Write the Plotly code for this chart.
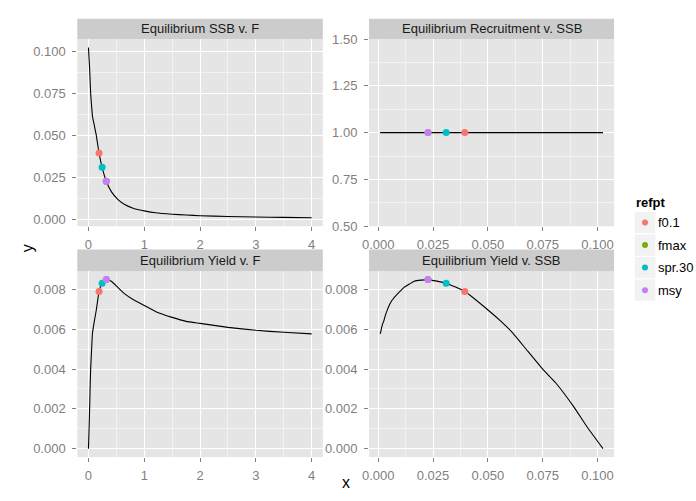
import plotly.graph_objects as go

# Equilibrium curves over fishing mortality F (recruitment held at 1)
F_vals = [0, 0.012, 0.022, 0.032, 0.040, 0.055, 0.072, 0.105, 0.14, 0.19, 0.245,
          0.32, 0.41, 0.53, 0.65, 0.8, 0.9, 1.0, 1.2, 1.5, 1.75, 2.0, 2.5, 3.0,
          3.5, 4.0]
ssb_vals = [0.1025, 0.0952, 0.0892, 0.0810, 0.0750, 0.0682, 0.0615, 0.0560, 0.0502,
            0.0395, 0.0310, 0.0227, 0.0165, 0.0117, 0.0088, 0.0066, 0.0057, 0.0050,
            0.0039, 0.0030, 0.0025, 0.0021, 0.0016, 0.0013, 0.0011, 0.0009]
yield_vals = [0.0, 0.0011, 0.0021, 0.0033, 0.0040, 0.0049, 0.0058, 0.0064, 0.00696,
              0.0079, 0.00832, 0.0085, 0.00842, 0.0081, 0.00778, 0.0075, 0.00735,
              0.0072, 0.0069, 0.0066, 0.0064, 0.0063, 0.0061, 0.00595, 0.00585,
              0.00577]
rec_vals = [1.0] * len(F_vals)

# Reference points
ref_names = ["f0.1", "fmax", "spr.30", "msy"]
ref_colors = ["#F8766D", "#7CAE00", "#00BFC4", "#C77CFF"]
ref_F = [0.19, 0.32, 0.245, 0.32]
ref_ssb = [0.0395, 0.0227, 0.0310, 0.0227]
ref_yield = [0.0079, 0.0085, 0.00832, 0.0085]
ref_rec = [1.0, 1.0, 1.0, 1.0]

panel_titles = ["Equilibrium SSB v. F", "Equilibrium Recruitment v. SSB",
                "Equilibrium Yield v. F", "Equilibrium Yield v. SSB"]

W, H = 696, 501
FONT = "Liberation Sans, Arial, sans-serif"
GRID = "#FFFFFF"
MINOR = "#F2F2F2"
PANEL_BG = "#E5E5E5"
STRIP_BG = "#CCCCCC"
TICK_COL = "#7F7F7F"

colL = [71 / W, 319 / W]
colR = [365.7 / W, 613.3 / W]
rowT = [1 - 226 / H, 1 - 33 / H]
rowB = [1 - 464 / H, 1 - 272.3 / H]
stripT = [1 - 33 / H, 1 - 12 / H]
stripB = [1 - 272.3 / H, 1 - 250 / H]

panels = [
    (F_vals, ssb_vals, ref_F, ref_ssb, colL, rowT, stripT),
    (ssb_vals, rec_vals, ref_ssb, ref_rec, colR, rowT, stripT),
    (F_vals, yield_vals, ref_F, ref_yield, colL, rowB, stripB),
    (ssb_vals, yield_vals, ref_ssb, ref_yield, colR, rowB, stripB),
]

fig = go.Figure()
shapes = []
annotations = []


def pad_range(vals, frac=0.05):
    lo, hi = min(vals), max(vals)
    d = (hi - lo) * frac
    return [lo - d, hi + d]


axis_common = dict(
    showline=False, zeroline=False, ticks="outside", ticklen=4, tickwidth=1,
    tickcolor=TICK_COL, tickfont=dict(family=FONT, size=13, color=TICK_COL),
    showgrid=True, gridcolor=GRID, gridwidth=1.1,
)

x_specs = [
    dict(dtick=1, tickformat="d"),
    dict(dtick=0.025, tickformat=".3f"),
    dict(dtick=1, tickformat="d"),
    dict(dtick=0.025, tickformat=".3f"),
]
y_specs = [
    dict(dtick=0.025, tickformat=".3f", range=pad_range(ssb_vals)),
    dict(dtick=0.25, tickformat=".2f", range=[0.5, 1.5]),
    dict(dtick=0.002, tickformat=".3f", range=pad_range(yield_vals)),
    dict(dtick=0.002, tickformat=".3f", range=pad_range(yield_vals)),
]

for i, (xs, ys, rx, ry, cdom, rdom, sdom) in enumerate(panels):
    n = i + 1
    xa = "x" if n == 1 else f"x{n}"
    ya = "y" if n == 1 else f"y{n}"
    fig.add_trace(go.Scatter(x=xs, y=ys, mode="lines", xaxis=xa, yaxis=ya,
                             line=dict(color="black", width=1.1, shape="spline",
                                       smoothing=0.4),
                             showlegend=False, hoverinfo="skip"))
    for name, col, px, py in zip(ref_names, ref_colors, rx, ry):
        fig.add_trace(go.Scatter(x=[px], y=[py], mode="markers", xaxis=xa, yaxis=ya,
                                 marker=dict(color=col, size=7, line=dict(width=0)),
                                 name=name, showlegend=False))
    xs_spec = x_specs[i]
    ys_spec = y_specs[i]
    xkey = "xaxis" if n == 1 else f"xaxis{n}"
    ykey = "yaxis" if n == 1 else f"yaxis{n}"
    fig.update_layout({
        xkey: dict(axis_common, domain=cdom, anchor=ya, range=pad_range(xs),
                   dtick=xs_spec["dtick"], tick0=0, tickformat=xs_spec["tickformat"],
                   ticklabelstandoff=2,
                   minor=dict(dtick=xs_spec["dtick"] / 2, tick0=0, showgrid=True,
                              gridcolor=MINOR, gridwidth=1, ticks="")),
        ykey: dict(axis_common, domain=rdom, anchor=xa, range=ys_spec["range"],
                   dtick=ys_spec["dtick"], tick0=0, tickformat=ys_spec["tickformat"],
                   ticklabelstandoff=4,
                   minor=dict(dtick=ys_spec["dtick"] / 2, tick0=0, showgrid=True,
                              gridcolor=MINOR, gridwidth=1, ticks="")),
    })
    # grey panel background
    shapes.append(dict(type="rect", xref=f"{xa} domain", yref=f"{ya} domain",
                       x0=0, x1=1, y0=0, y1=1, fillcolor=PANEL_BG,
                       line=dict(width=0), layer="below"))
    # facet strip
    shapes.append(dict(type="rect", xref="paper", yref="paper",
                       x0=cdom[0], x1=cdom[1], y0=sdom[0], y1=sdom[1],
                       fillcolor=STRIP_BG, line=dict(width=0), layer="below"))
    annotations.append(dict(text=panel_titles[i], xref="paper", yref="paper",
                            x=(cdom[0] + cdom[1]) / 2, y=(sdom[0] + sdom[1]) / 2,
                            showarrow=False, xanchor="center", yanchor="middle",
                            font=dict(family=FONT, size=13, color="#1A1A1A")))

# legend drawn on its own small axis pair
leg_x = [634 / W, 1.0]
leg_y = [1 - 303.5 / H, 1 - 210.5 / H]
fig.add_trace(go.Scatter(x=[10.5] * len(ref_names), y=ref_names, mode="markers",
                         xaxis="x5", yaxis="y5", showlegend=False, hoverinfo="skip",
                         marker=dict(color=ref_colors, size=6, line=dict(width=0))))
fig.update_layout(
    xaxis5=dict(domain=leg_x, anchor="y5", range=[0, 62], visible=False, fixedrange=True),
    yaxis5=dict(domain=leg_y, anchor="x5", type="category", categoryorder="array",
                categoryarray=ref_names, range=[3.5, -0.5], visible=False, fixedrange=True),
)
for k, name in enumerate(ref_names):
    shapes.append(dict(type="rect", xref="x5", yref="y5", x0=0, x1=21,
                       y0=k - 0.47, y1=k + 0.47, fillcolor="#F2F2F2",
                       line=dict(width=0), layer="below"))
    annotations.append(dict(text=name, xref="x5", yref="y5", x=22, y=name,
                            showarrow=False, xanchor="left", yanchor="middle",
                            font=dict(family=FONT, size=13, color="#000000")))
annotations.append(dict(text="<b>refpt</b>", xref="paper", yref="paper",
                        x=633 / W, y=1 - 201.5 / H, showarrow=False,
                        xanchor="left", yanchor="middle",
                        font=dict(family=FONT, size=13, color="#000000")))

# axis titles
annotations.append(dict(text="x", xref="paper", yref="paper", x=342 / W, y=0,
                        showarrow=False, xanchor="center", yanchor="bottom",
                        font=dict(family=FONT, size=16, color="#000000")))
annotations.append(dict(text="y", xref="paper", yref="paper", x=21 / W, y=1 - 249 / H,
                        showarrow=False, xanchor="center", yanchor="middle", textangle=-90,
                        font=dict(family=FONT, size=16, color="#000000")))

fig.update_layout(
    width=W, height=H,
    margin=dict(l=0, r=0, t=0, b=0),
    paper_bgcolor="white",
    plot_bgcolor="rgba(0,0,0,0)",
    font=dict(family=FONT),
    shapes=shapes,
    annotations=annotations,
    showlegend=False,
)

fig.write_html("out.html")
